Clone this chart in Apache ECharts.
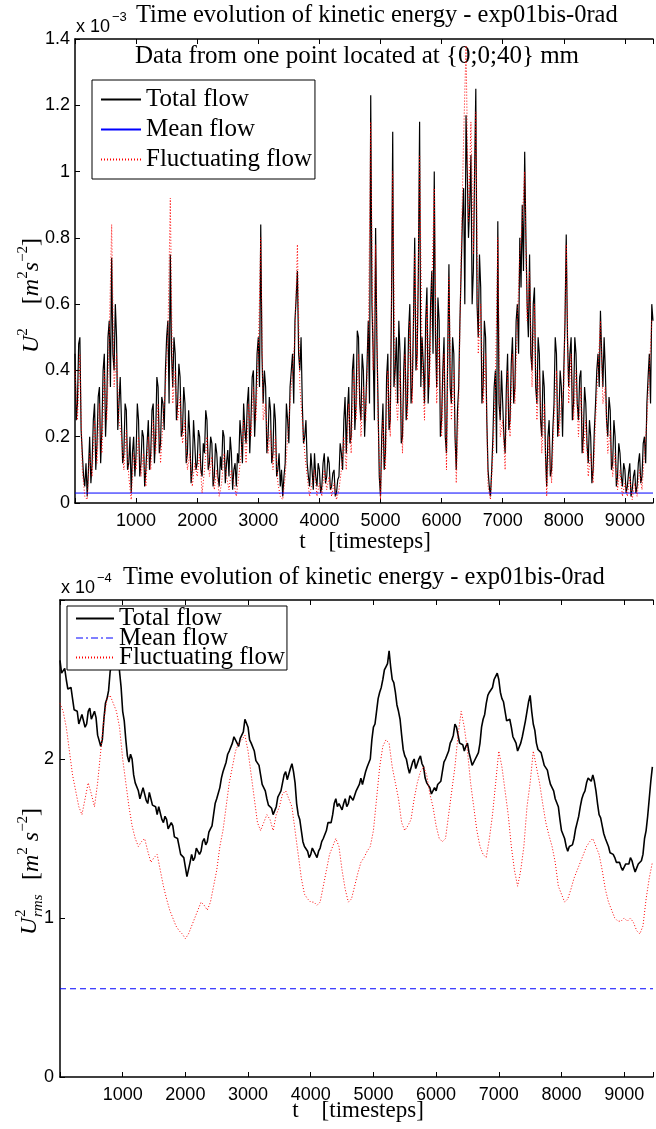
<!DOCTYPE html>
<html><head><meta charset="utf-8">
<script src="https://cdn.jsdelivr.net/npm/echarts@6/dist/echarts.min.js"></script>
<style>html,body{margin:0;padding:0;background:#fff}#c{width:656px;height:1129px}</style>
</head><body><div id="c"></div>
<script>
const seriesNames = ['Total flow', 'Mean flow', 'Fluctuating flow'];
const xTickLabels = [1000, 2000, 3000, 4000, 5000, 6000, 7000, 8000, 9000];

// Top panel: U^2 in units of 1e-3
const topTotalStep = 20;
const topTotal = [
0.45,0.25,0.3,0.48,0.5,0.22,0.15,0.08,0.05,0.12,0.02,0.1,0.2,0.06,0.12,0.25,0.3,0.1,0.18,0.32,0.35,0.12,0.22,0.4,0.45,0.2,0.3,0.5,0.55,0.35,0.74,0.45,0.4,0.6,0.5,0.22,0.3,0.38,0.25,0.12,0.15,0.3,0.28,0.1,0.12,0.2,0.03,0.15,0.2,0.08,
0.15,0.3,0.25,0.08,0.12,0.22,0.2,0.05,0.1,0.18,0.25,0.1,0.15,0.28,0.3,0.12,0.2,0.38,0.35,0.15,0.18,0.32,0.3,0.22,0.4,0.5,0.55,0.3,0.75,0.45,0.35,0.5,0.45,0.25,0.3,0.42,0.38,0.2,0.22,0.35,0.3,0.12,0.15,0.28,0.2,0.06,0.1,0.25,0.18,0.1,
0.12,0.22,0.2,0.1,0.08,0.18,0.15,0.28,0.25,0.1,0.12,0.2,0.18,0.05,0.08,0.18,0.15,0.08,0.05,0.14,0.1,0.22,0.2,0.06,0.12,0.16,0.08,0.2,0.15,0.04,0.1,0.12,0.05,0.15,0.12,0.25,0.2,0.12,0.3,0.22,0.18,0.3,0.35,0.15,0.25,0.38,0.4,0.2,0.3,0.45,
0.5,0.35,0.84,0.45,0.3,0.4,0.35,0.15,0.2,0.32,0.28,0.12,0.15,0.3,0.25,0.08,0.1,0.15,0.05,0.1,0.02,0.08,0.12,0.3,0.25,0.18,0.35,0.4,0.45,0.3,0.55,0.62,0.7,0.45,0.4,0.5,0.3,0.18,0.2,0.25,0.12,0.08,0.05,0.15,0.1,0.04,0.15,0.08,0.05,0.12,
0.1,0.03,0.05,0.12,0.15,0.06,0.08,0.14,0.12,0.04,0.05,0.09,0.1,0.02,0.03,0.07,0.08,0.18,0.15,0.1,0.25,0.32,0.15,0.28,0.35,0.18,0.2,0.4,0.45,0.22,0.3,0.52,0.5,0.3,0.25,0.45,0.4,0.2,0.3,0.42,0.55,0.3,1.23,0.6,0.45,0.25,0.83,0.5,0.3,0.08,
0.02,0.2,0.3,0.1,0.15,0.38,0.45,0.22,0.25,0.6,1.12,0.35,0.4,0.5,0.3,0.55,0.45,0.18,0.2,0.4,0.5,0.25,0.3,0.52,0.6,0.3,0.35,0.55,0.8,0.4,0.45,0.7,1.15,0.35,0.5,0.42,0.3,0.55,0.65,0.3,0.4,0.6,0.7,0.45,1.0,0.5,0.35,0.62,0.55,0.2,
0.25,0.4,0.5,0.2,0.15,0.45,0.72,0.35,0.3,0.5,0.45,0.2,0.1,0.28,0.35,0.55,0.7,0.85,0.95,0.6,1.17,1.0,0.8,0.9,1.05,0.6,0.7,1.0,1.25,0.6,0.5,0.75,0.65,0.3,0.35,0.55,0.5,0.25,0.1,0.05,0.02,0.1,0.2,0.35,0.4,0.15,0.85,0.3,0.25,0.4,
0.3,0.2,0.15,0.35,0.45,0.22,0.25,0.42,0.5,0.3,0.35,0.55,0.6,0.45,0.8,0.65,0.9,0.7,1.06,0.8,0.6,0.5,0.75,0.45,0.4,0.6,0.65,0.35,0.3,0.5,0.45,0.25,0.2,0.4,0.35,0.15,0.05,0.2,0.25,0.08,0.1,0.22,0.3,0.5,0.45,0.2,0.25,0.4,0.35,0.2,
0.4,0.55,0.81,0.5,0.35,0.45,0.5,0.25,0.3,0.5,0.45,0.3,0.25,0.38,0.4,0.15,0.2,0.35,0.3,0.18,0.12,0.25,0.2,0.06,0.1,0.22,0.3,0.4,0.45,0.35,0.58,0.45,0.35,0.5,0.4,0.25,0.2,0.32,0.28,0.1,0.12,0.25,0.2,0.05,0.08,0.18,0.15,0.08,0.05,0.12,
0.1,0.03,0.05,0.09,0.12,0.02,0.04,0.08,0.1,0.03,0.05,0.12,0.15,0.06,0.08,0.18,0.2,0.12,0.3,0.38,0.45,0.3,0.6,0.55
];
const topFluctStep = 40;
const topFluct = [
0.4,0.25,0.45,0.1,0.02,0.01,0.15,0.08,0.25,0.12,0.3,0.15,0.4,0.25,0.5,0.84,0.35,0.45,0.25,0.2,0.1,0.22,0.08,0.01,0.15,
0.1,0.2,0.08,0.15,0.05,0.2,0.1,0.25,0.15,0.3,0.12,0.25,0.35,0.5,0.92,0.3,0.4,0.25,0.32,0.18,0.25,0.1,0.15,0.05,0.12,
0.08,0.15,0.03,0.1,0.2,0.08,0.14,0.04,0.1,0.02,0.06,0.15,0.08,0.04,0.1,0.06,0.02,0.08,0.15,0.25,0.12,0.3,0.2,0.35,0.25,
0.45,0.8,0.25,0.3,0.15,0.22,0.1,0.2,0.06,0.02,0.01,0.08,0.2,0.3,0.4,0.5,0.78,0.35,0.25,0.15,0.08,0.02,0.06,0.1,0.02,
0.06,0.02,0.1,0.04,0.08,0.02,0.06,0.01,0.04,0.1,0.2,0.1,0.3,0.15,0.4,0.25,0.45,0.2,0.35,0.25,0.5,1.15,0.4,0.78,0.25,
0.01,0.25,0.1,0.4,0.2,1.0,0.35,0.25,0.4,0.15,0.45,0.25,0.55,0.3,0.75,0.4,1.05,0.45,0.25,0.6,0.35,0.65,0.95,0.3,0.5,
0.2,0.45,0.1,0.68,0.25,0.4,0.06,0.3,0.75,1.1,1.38,0.85,1.15,0.75,1.18,0.45,0.6,0.3,0.45,0.05,0.01,0.15,0.35,0.8,0.2,
0.25,0.1,0.4,0.2,0.45,0.3,0.55,0.75,0.85,1.0,0.55,0.7,0.35,0.6,0.25,0.4,0.15,0.3,0.02,0.2,0.06,0.25,0.4,0.2,0.3,
0.35,0.78,0.3,0.45,0.25,0.4,0.2,0.35,0.15,0.25,0.08,0.15,0.06,0.25,0.4,0.55,0.3,0.35,0.15,0.22,0.08,0.15,0.04,0.1,0.02,
0.06,0.02,0.08,0.01,0.06,0.02,0.1,0.04,0.15,0.25,0.4,0.55
];
const topMean = 0.03;

// Bottom panel: U^2_rms in units of 1e-4
const botTotalStep = 25;
const botTotal = [
2.62,2.54,2.55,2.57,2.5,2.44,2.45,2.45,2.38,2.31,2.3,2.3,2.22,2.21,2.28,2.27,2.2,2.22,2.3,2.32,2.25,2.24,2.3,2.26,2.15,2.14,2.08,2.12,2.25,2.35,2.38,2.43,2.55,2.6,2.62,2.64,2.72,2.66,2.55,2.45,
2.3,2.24,2.12,2.02,1.98,2.03,2.0,1.9,1.85,1.86,1.8,1.75,1.76,1.82,1.82,1.74,1.72,1.79,1.78,1.71,1.7,1.7,1.65,1.7,1.7,1.62,1.6,1.64,1.62,1.56,1.55,1.6,1.58,1.51,1.5,1.5,1.45,1.4,1.4,1.38,
1.32,1.26,1.27,1.35,1.4,1.36,1.38,1.44,1.45,1.4,1.42,1.48,1.5,1.46,1.48,1.54,1.56,1.58,1.65,1.72,1.75,1.76,1.82,1.88,1.92,1.93,1.98,2.03,2.05,2.05,2.1,2.14,2.15,2.1,2.08,2.13,2.12,2.17,2.25,2.26,
2.2,2.12,2.1,2.1,2.05,1.99,1.98,1.96,1.9,1.84,1.82,1.8,1.75,1.71,1.7,1.69,1.65,1.66,1.7,1.76,1.78,1.8,1.85,1.9,1.92,1.87,1.88,1.94,1.97,1.92,1.85,1.72,1.65,1.62,1.55,1.48,1.45,1.44,1.42,1.38,
1.4,1.44,1.45,1.4,1.38,1.42,1.44,1.48,1.5,1.5,1.55,1.6,1.6,1.6,1.65,1.72,1.75,1.7,1.72,1.73,1.68,1.72,1.75,1.7,1.72,1.77,1.78,1.74,1.75,1.8,1.82,1.84,1.88,1.84,1.85,1.92,1.95,1.96,2.0,2.12,
2.2,2.22,2.3,2.38,2.42,2.45,2.5,2.56,2.58,2.6,2.68,2.58,2.5,2.48,2.42,2.34,2.3,2.25,2.15,2.06,2.02,2.0,1.95,1.91,1.92,1.98,2.0,1.94,1.95,2.0,2.02,1.97,1.95,1.88,1.85,1.86,1.82,1.78,1.78,1.82,
1.8,1.84,1.85,1.86,1.92,1.98,2.0,2.0,2.05,2.1,2.12,2.15,2.22,2.2,2.15,2.1,2.1,2.09,2.05,2.08,2.1,2.04,2.0,1.96,1.95,2.0,2.02,2.04,2.1,2.2,2.25,2.28,2.35,2.4,2.42,2.42,2.45,2.5,2.52,2.54,
2.5,2.42,2.38,2.36,2.3,2.24,2.25,2.25,2.2,2.14,2.12,2.1,2.05,2.06,2.1,2.14,2.15,2.24,2.3,2.36,2.4,2.3,2.22,2.18,2.1,2.06,2.05,2.04,2.0,1.96,1.95,1.93,1.88,1.84,1.85,1.8,1.75,1.74,1.7,1.62,
1.55,1.54,1.5,1.45,1.42,1.45,1.45,1.46,1.5,1.56,1.6,1.64,1.7,1.75,1.78,1.8,1.85,1.88,1.88,1.86,1.9,1.86,1.8,1.72,1.65,1.63,1.58,1.53,1.5,1.49,1.45,1.41,1.4,1.4,1.38,1.35,1.35,1.35,1.32,1.3,
1.3,1.34,1.35,1.34,1.38,1.36,1.32,1.29,1.3,1.34,1.35,1.36,1.4,1.5,1.55,1.64,1.75,1.86,1.95
];
const botFluctStep = 50;
const botFluct = [
2.35,2.3,2.2,2.05,1.9,1.8,1.7,1.65,1.75,1.85,1.78,1.7,1.85,2.05,2.25,2.38,2.4,2.35,2.3,2.2,
2.0,1.85,1.7,1.58,1.5,1.45,1.48,1.5,1.42,1.35,1.38,1.4,1.3,1.2,1.12,1.05,1.0,0.95,0.92,0.9,
0.87,0.9,0.95,1.0,1.05,1.1,1.08,1.05,1.1,1.2,1.3,1.45,1.55,1.7,1.85,1.95,2.05,2.1,2.12,2.15,
2.05,1.9,1.75,1.6,1.55,1.6,1.65,1.62,1.55,1.65,1.7,1.78,1.8,1.75,1.7,1.55,1.4,1.25,1.15,1.12,
1.1,1.1,1.08,1.1,1.2,1.3,1.4,1.45,1.5,1.45,1.3,1.18,1.1,1.12,1.2,1.28,1.35,1.38,1.42,1.45,
1.55,1.75,1.95,2.08,2.12,2.1,1.95,1.85,1.75,1.6,1.55,1.58,1.62,1.75,1.85,1.92,1.95,1.9,1.78,1.7,
1.58,1.5,1.48,1.5,1.65,1.8,1.95,2.15,2.3,2.2,2.05,1.85,1.7,1.55,1.45,1.4,1.38,1.5,1.65,1.85,
2.05,1.95,1.8,1.65,1.45,1.3,1.2,1.3,1.45,1.7,1.85,2.05,1.95,1.85,1.72,1.6,1.52,1.45,1.35,1.2,
1.15,1.1,1.12,1.18,1.25,1.3,1.35,1.4,1.45,1.48,1.5,1.45,1.4,1.3,1.18,1.1,1.05,1.0,0.98,0.98,
1.0,0.98,1.0,0.97,0.92,0.9,0.95,1.12,1.25,1.35
];
const botMean = 0.555;
const tMax = 9460;

const serif = '"Liberation Serif", "Times New Roman", serif';
const sans = '"Liberation Sans", Arial, sans-serif';

const pairs = (arr, step) => arr.map((v, i) => [i * step, v]);

function xAxes(grid) {
  const base = {
    gridIndex: grid, type: 'value', min: 0, max: tMax, interval: 1000,
    axisLine: { show: true, onZero: false, lineStyle: { color: '#000', width: 1.5 } },
    axisTick: { show: true, inside: true, length: 5, lineStyle: { color: '#000', width: 1 } },
    splitLine: { show: false }
  };
  return [
    Object.assign({}, base, {
      position: 'bottom',
      axisLabel: {
        color: '#000', fontFamily: sans, fontSize: 18, margin: 9,
        formatter: v => xTickLabels.indexOf(v) >= 0 ? String(v) : ''
      }
    }),
    Object.assign({}, base, { position: 'top', axisLabel: { show: false } })
  ];
}

const yBase = {
  type: 'value', min: 0,
  axisLine: { show: true, onZero: false, lineStyle: { color: '#000', width: 1.5 } },
  axisTick: { show: true, inside: true, length: 5, lineStyle: { color: '#000', width: 1 } },
  splitLine: { show: false }
};

function supText(x, y, main, sup, size, supSize, dx, dy) {
  return [
    { type: 'text', x: x, y: y, style: { text: main, font: size + 'px ' + sans, fill: '#000', align: 'left', verticalAlign: 'middle' } },
    { type: 'text', x: x + dx, y: y + dy, style: { text: sup, font: supSize + 'px ' + sans, fill: '#000', align: 'left', verticalAlign: 'middle' } }
  ];
}

const unitRich = {
  i: { fontFamily: serif, fontStyle: 'italic', fontSize: 24, lineHeight: 28, verticalAlign: 'bottom' },
  n: { fontFamily: serif, fontSize: 24, lineHeight: 28, verticalAlign: 'bottom' },
  p: { fontFamily: serif, fontSize: 15, lineHeight: 15, verticalAlign: 'top' }
};

const legendCommon = {
  orient: 'vertical', selectedMode: false,
  borderColor: '#000', borderWidth: 1, backgroundColor: '#fff',
  itemStyle: { opacity: 0 },
  textStyle: { fontFamily: serif, fontSize: 25, color: '#000' }
};

const option = {
  animation: false,
  backgroundColor: '#fff',
  grid: [
    { left: 75, right: 0, top: 39, height: 464 },
    { left: 60, right: 0, top: 600, height: 477 }
  ],
  xAxis: xAxes(0).concat(xAxes(1)),
  yAxis: [
    Object.assign({}, yBase, {
      gridIndex: 0, max: 1.4, interval: 0.2,
      axisLabel: { color: '#000', fontFamily: sans, fontSize: 18, margin: 5 }
    }),
    Object.assign({}, yBase, {
      gridIndex: 1, max: 3, interval: 1,
      axisLabel: { color: '#000', fontFamily: sans, fontSize: 18, margin: 6, formatter: v => v >= 3 ? '' : String(v) }
    })
  ],
  legend: [
    Object.assign({}, legendCommon, {
      left: 92, top: 80,
      data: seriesNames.map(n => ({ name: n })),
      itemWidth: 40, itemHeight: 14, itemGap: 5,
      padding: [7, 3, 7, 8]
    }),
    Object.assign({}, legendCommon, {
      left: 67, top: 606,
      data: [
        { name: 'Total flow' },
        { name: 'Mean flow', lineStyle: { color: '#0000ff', type: [7, 3, 2, 3], width: 1 } },
        { name: 'Fluctuating flow' }
      ],
      itemWidth: 38, itemHeight: 14, itemGap: -5.5,
      padding: [0, 2, 0, 8]
    })
  ],
  series: [
    { name: 'Total flow', type: 'line', xAxisIndex: 0, yAxisIndex: 0, data: pairs(topTotal, topTotalStep), symbol: 'none', color: '#000', lineStyle: { color: '#000', width: 1.2 } },
    { name: 'Mean flow', type: 'line', xAxisIndex: 0, yAxisIndex: 0, data: [[0, topMean], [tMax, topMean]], symbol: 'none', color: '#0000ff', lineStyle: { color: '#0000ff', width: 1 } },
    { name: 'Fluctuating flow', type: 'line', xAxisIndex: 0, yAxisIndex: 0, data: pairs(topFluct, topFluctStep), symbol: 'none', color: '#ff0000', lineStyle: { color: '#ff0000', width: 1, type: [1, 2] } },
    { name: 'Total flow', type: 'line', xAxisIndex: 2, yAxisIndex: 1, data: pairs(botTotal, botTotalStep), symbol: 'none', color: '#000', lineStyle: { color: '#000', width: 1.6 } },
    { name: 'Mean flow', type: 'line', xAxisIndex: 2, yAxisIndex: 1, data: [[0, botMean], [tMax, botMean]], symbol: 'none', color: '#0000ff', lineStyle: { color: '#0000ff', width: 1, type: [6, 4] } },
    { name: 'Fluctuating flow', type: 'line', xAxisIndex: 2, yAxisIndex: 1, data: pairs(botFluct, botFluctStep), symbol: 'none', color: '#ff0000', lineStyle: { color: '#ff0000', width: 1, type: [1, 2] } }
  ],
  graphic: [
    { type: 'text', x: 136, y: 16, style: { text: 'Time evolution of kinetic energy - exp01bis-0rad', font: '24.5px ' + serif, fill: '#000', align: 'left', verticalAlign: 'middle' } },
    { type: 'text', x: 135, y: 56, style: { text: 'Data from one point located at {0;0;40} mm', font: '25px ' + serif, fill: '#000', align: 'left', verticalAlign: 'middle' } },
    { type: 'text', x: 123, y: 578, style: { text: 'Time evolution of kinetic energy - exp01bis-0rad', font: '24.5px ' + serif, fill: '#000', align: 'left', verticalAlign: 'middle' } },
    ...supText(76, 27, 'x 10', '\u22123', 18, 13, 36, -10),
    ...supText(61, 588, 'x 10', '\u22124', 18, 13, 36, -10),
    { type: 'text', x: 365, y: 542, style: { text: 't    [timesteps]', font: '23px ' + serif, fill: '#000', align: 'center', verticalAlign: 'middle' } },
    { type: 'text', x: 358, y: 1111, style: { text: 't    [timesteps]', font: '23px ' + serif, fill: '#000', align: 'center', verticalAlign: 'middle' } },
    {
      type: 'group', x: 30, y: 271, rotation: Math.PI / 2,
      children: [
        { type: 'text', x: -82, y: 0, style: { text: '{i|U}{p|2}{n|    [}{i|m}{p|2}{i|s}{p|\u22122}{n|]}', rich: unitRich, fill: '#000', align: 'left', verticalAlign: 'middle' } }
      ]
    },
    {
      type: 'group', x: 30, y: 842, rotation: Math.PI / 2,
      children: [
        { type: 'text', x: -93, y: 0, style: { text: 'U', font: 'italic 24px ' + serif, fill: '#000', align: 'left', verticalAlign: 'middle' } },
        { type: 'text', x: -75, y: -9, style: { text: '2', font: '15px ' + serif, fill: '#000', align: 'left', verticalAlign: 'middle' } },
        { type: 'text', x: -75, y: 8, style: { text: 'rms', font: 'italic 15px ' + serif, fill: '#000', align: 'left', verticalAlign: 'middle' } },
        { type: 'text', x: -38, y: 0, style: { text: '{n|[}{i|m}{p|2}{n| }{i|s}{p|\u22122}{n|]}', rich: unitRich, fill: '#000', align: 'left', verticalAlign: 'middle' } }
      ]
    }
  ]
};

const chart = echarts.init(document.getElementById('c'), null, { renderer: 'canvas' });
chart.setOption(option);
</script>
</body></html>
